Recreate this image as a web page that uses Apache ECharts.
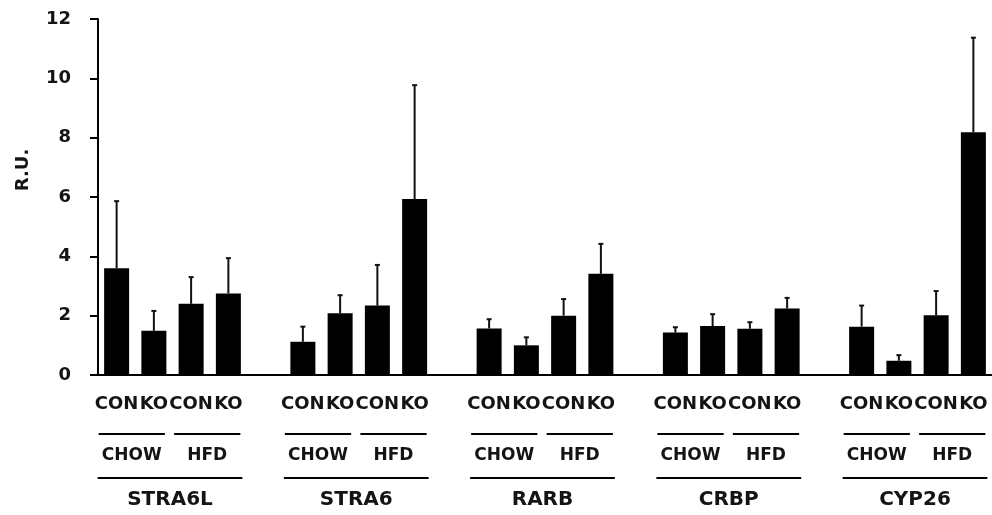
<!DOCTYPE html>
<html>
<head>
<meta charset="utf-8">
<script src="https://cdn.jsdelivr.net/npm/echarts@6/dist/echarts.min.js"></script>
<style>html,body{margin:0;padding:0;background:#fff;}#c{width:992px;height:515px;}</style>
</head>
<body>
<div id="c"></div>
<script>
// ---- data ----
var genes = ['STRA6L', 'STRA6', 'RARB', 'CRBP', 'CYP26'];
var diets = ['CHOW', 'HFD'];
var genotypes = ['CON', 'KO'];
// order per gene: CHOW-CON, CHOW-KO, HFD-CON, HFD-KO
var meanSTRA6L = [3.60, 1.49, 2.40, 2.75];
var meanSTRA6  = [1.12, 2.08, 2.34, 5.93];
var meanRARB   = [1.57, 1.00, 2.00, 3.41];
var meanCRBP   = [1.43, 1.65, 1.56, 2.24];
var meanCYP26  = [1.63, 0.48, 2.01, 8.18];
var upperSTRA6L = [5.86, 2.16, 3.30, 3.94];
var upperSTRA6  = [1.63, 2.69, 3.71, 9.77];
var upperRARB   = [1.88, 1.27, 2.56, 4.42];
var upperCRBP   = [1.61, 2.05, 1.78, 2.60];
var upperCYP26  = [2.34, 0.67, 2.83, 11.37];
var yTicks = [0, 2, 4, 6, 8, 10, 12];

var means = [meanSTRA6L, meanSTRA6, meanRARB, meanCRBP, meanCYP26];
var uppers = [upperSTRA6L, upperSTRA6, upperRARB, upperCRBP, upperCYP26];

// build slots: 4 bars + 1 gap per gene (last gap dropped)
var cats = [], barData = [], errData = [];
genes.forEach(function (g, gi) {
  for (var k = 0; k < 4; k++) {
    var idx = cats.length;
    cats.push(genotypes[k % 2]);
    barData.push(means[gi][k]);
    errData.push([idx, means[gi][k], uppers[gi][k]]);
  }
  if (gi < genes.length - 1) { cats.push(''); barData.push('-'); }
});

var FONT = 'DejaVu Sans';
var TXT = '#141414';
var chart = echarts.init(document.getElementById('c'), null, {renderer: 'canvas'});
chart.setOption({
  animation: false,
  backgroundColor: '#fff',
  grid: {left: 98, top: 19, bottom: 140, width: 897.6, containLabel: false},
  xAxis: {
    type: 'category', data: cats, boundaryGap: true,
    axisLine: {lineStyle: {color: '#000', width: 2}},
    axisTick: {show: false},
    axisLabel: {interval: 0, margin: 20, fontFamily: FONT, fontWeight: 'bold', fontSize: 18, color: TXT}
  },
  yAxis: {
    type: 'value', min: 0, max: 12, interval: 2,
    splitLine: {show: false},
    axisLine: {show: true, lineStyle: {color: '#000', width: 2}},
    axisTick: {show: true, length: 8, lineStyle: {color: '#000', width: 2}},
    axisLabel: {margin: 27, fontFamily: FONT, fontWeight: 'bold', fontSize: 18, color: TXT,
      formatter: function (v) { return yTicks.indexOf(v) >= 0 ? String(v) : ''; }}
  },
  series: [{
    type: 'bar', data: barData, barWidth: 25,
    itemStyle: {color: '#000'}, z: 2
  }, {
    type: 'custom', data: errData, z: 3,
    renderItem: function (params, api) {
      var p0 = api.coord([api.value(0), api.value(1)]);
      var p1 = api.coord([api.value(0), api.value(2)]);
      return {type: 'group', children: [
        {type: 'line', shape: {x1: p0[0], y1: p0[1], x2: p1[0], y2: p1[1]}, style: {stroke: '#111', lineWidth: 2}},
        {type: 'line', shape: {x1: p1[0] - 2.5, y1: p1[1], x2: p1[0] + 2.5, y2: p1[1]}, style: {stroke: '#111', lineWidth: 2}}
      ]};
    }
  }]
});

// annotations below the axis, positioned from the category scale
function px(i) { return chart.convertToPixel({xAxisIndex: 0}, i); }
var graphics = [{
  type: 'text', x: 23, y: 170, rotation: Math.PI / 2,
  style: {text: 'R.U.', fontFamily: FONT, fontWeight: 'bold', fontSize: 18, fill: TXT, align: 'center', verticalAlign: 'middle'}
}];
var yShort = 434, yDiet = 456, yLong = 478, yGene = 500;
genes.forEach(function (g, gi) {
  var b = gi * 5;
  var c1 = px(b), c2 = px(b + 1), c3 = px(b + 2), c4 = px(b + 3);
  var segs = [[c1 - 18, c2 + 11], [c3 - 17, c4 + 12]];
  segs.forEach(function (s, si) {
    graphics.push({type: 'line', shape: {x1: s[0], y1: yShort, x2: s[1], y2: yShort}, style: {stroke: '#000', lineWidth: 2}});
    graphics.push({type: 'text', x: (s[0] + s[1]) / 2, y: yDiet,
      style: {text: diets[si], fontFamily: FONT, fontWeight: 'bold', fontSize: 17, fill: TXT, align: 'center', verticalAlign: 'middle'}});
  });
  var L = [c1 - 19, c4 + 14];
  graphics.push({type: 'line', shape: {x1: L[0], y1: yLong, x2: L[1], y2: yLong}, style: {stroke: '#000', lineWidth: 2}});
  graphics.push({type: 'text', x: (L[0] + L[1]) / 2, y: yGene,
    style: {text: g, fontFamily: FONT, fontWeight: 'bold', fontSize: 20, fill: TXT, align: 'center', verticalAlign: 'middle'}});
});
chart.setOption({graphic: graphics});
</script>
</body>
</html>
